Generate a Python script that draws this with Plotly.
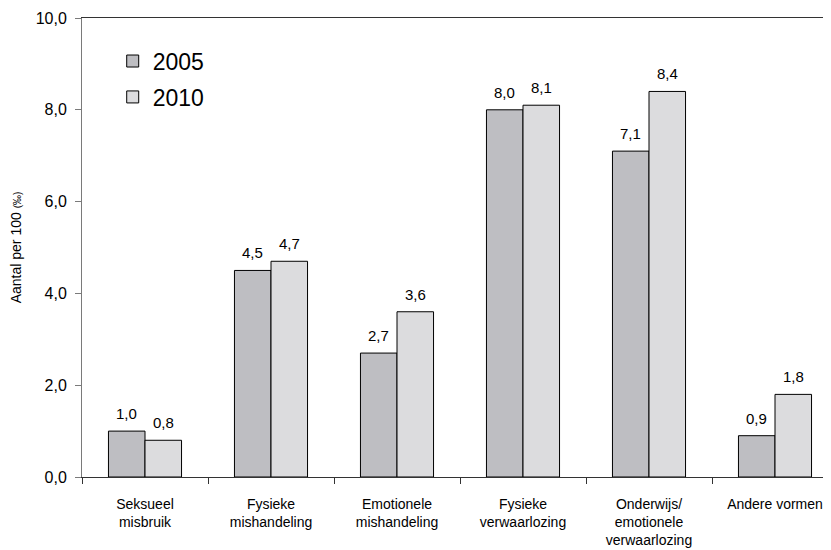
import plotly.graph_objects as go

categories = ["Seksueel<br>misbruik", "Fysieke<br>mishandeling", "Emotionele<br>mishandeling",
              "Fysieke<br>verwaarlozing", "Onderwijs/<br>emotionele<br>verwaarlozing",
              "Andere vormen"]
values_2005 = [1.0, 4.5, 2.7, 8.0, 7.1, 0.9]
values_2010 = [0.8, 4.7, 3.6, 8.1, 8.4, 1.8]
y_ticks = [0, 2, 4, 6, 8, 10]

font = "Liberation Sans, Arial, sans-serif"
BARGAP = 0.42
bar_w = (1 - BARGAP) / 2

fig = go.Figure()
fig.add_bar(x=categories, y=values_2005, name="2005", legendgroup="a",
            marker=dict(color="#bebec2", line=dict(color="black", width=1)))
fig.add_bar(x=categories, y=values_2010, name="2010", legendgroup="b",
            marker=dict(color="#dcdcde", line=dict(color="black", width=1)))

annotations = []
for i, (a, b) in enumerate(zip(values_2005, values_2010)):
    for off, v in ((-bar_w / 2, a), (bar_w / 2, b)):
        annotations.append(dict(
            x=i + off, y=v, xref="x", yref="y", text=f"{v:.1f}".replace(".", ","),
            showarrow=False, yanchor="bottom", yshift=7,
            font=dict(size=15, color="black", family=font)))

# page body has an 8px margin, so the figure is offset by 8px
fig.update_layout(
    width=823, height=542,
    margin=dict(l=74, r=0, t=10, b=73, autoexpand=False),
    plot_bgcolor="white", paper_bgcolor="white",
    separators=",.",
    barmode="group", bargap=BARGAP, bargroupgap=0,
    font=dict(family=font, size=15, color="black"),
    legend=dict(x=0.041, y=0.953, xanchor="left", yanchor="top",
                font=dict(size=23, color="black", family=font),
                bgcolor="rgba(0,0,0,0)", itemwidth=30, tracegroupgap=3),
    annotations=annotations,
)
fig.update_xaxes(
    showline=True, linecolor="#333333", linewidth=1, mirror=True,
    ticks="outside", tickson="boundaries", ticklen=6, tickcolor="#333333",
    tickfont=dict(size=14, color="black"), automargin=False,
    ticklabelstandoff=14,
    range=[-0.5, -0.5 + 749 / 126],
)
fig.update_yaxes(
    range=[0, 10], tickvals=y_ticks, tickformat=".1f",
    showgrid=False, zeroline=False, automargin=False,
    showline=True, linecolor="#7a7a7a", linewidth=1,
    ticks="outside", ticklen=6, tickcolor="#7a7a7a",
    tickfont=dict(size=16, color="black"), ticklabelstandoff=5,
    title=dict(text="Aantal per 100 <span style='font-size:10px'>(‰)</span>",
               font=dict(size=14, color="black"), standoff=24),
)

fig.write_html("out.html")
